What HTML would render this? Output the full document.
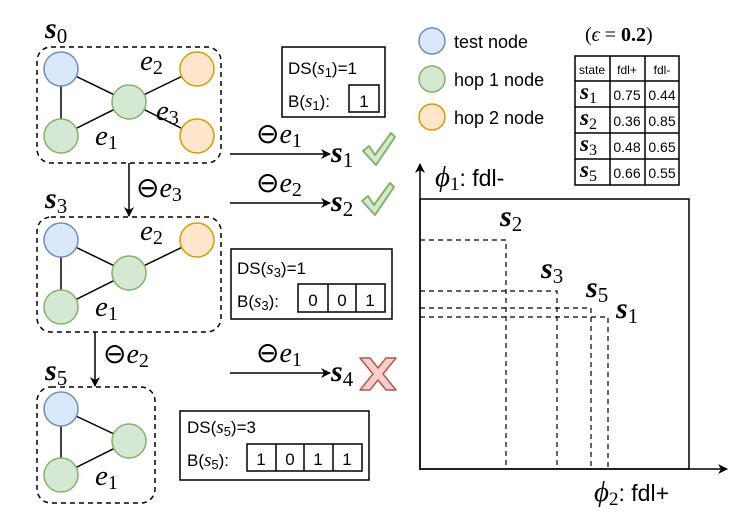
<!DOCTYPE html>
<html><head><meta charset="utf-8"><style>
html,body{margin:0;padding:0;background:#fff;}
svg{display:block;}
.m{font-family:"Liberation Serif",serif;font-style:italic;}
.t{font-family:"Liberation Sans",sans-serif;}
</style></head><body>
<svg width="748" height="515" viewBox="0 0 748 515" xmlns="http://www.w3.org/2000/svg">
<defs>
<marker id="ah" markerWidth="10" markerHeight="10" refX="9" refY="5" orient="auto" markerUnits="userSpaceOnUse">
<path d="M0,0 L10,5 L0,10 L3,5 Z" fill="#000"/></marker>
<g id="blue"><circle r="17" fill="#dae8fc" stroke="#6c8ebf" stroke-width="1.5"/></g>
<g id="green"><circle r="17" fill="#d5e8d4" stroke="#82b366" stroke-width="1.5"/></g>
<g id="orange"><circle r="17" fill="#ffe6cc" stroke="#d79b00" stroke-width="1.5"/></g>
<path id="chk" d="M0,18 L6,13 L12,22 L28,0 L32,4 L13,32 Z" fill="#d5e8d4" stroke="#82b366" stroke-width="2" stroke-linejoin="round"/>
</defs>

<!-- s0 -->
<text class="m" x="45" y="38" font-size="30" font-weight="bold">s<tspan font-size="21" font-style="normal" font-weight="normal" dy="5">0</tspan></text>
<rect x="37" y="47" width="184" height="116" rx="14" fill="none" stroke="#000" stroke-width="1.5" stroke-dasharray="5,4"/>
<g stroke="#000" stroke-width="1.5">
<line x1="61" y1="69" x2="129" y2="102"/><line x1="61" y1="69" x2="61" y2="136"/>
<line x1="61" y1="136" x2="129" y2="102"/><line x1="129" y1="102" x2="197" y2="69"/>
<line x1="129" y1="102" x2="197" y2="136"/></g>
<use href="#blue" x="61" y="69"/><use href="#green" x="61" y="136"/><use href="#green" x="129" y="102"/>
<use href="#orange" x="197" y="69"/><use href="#orange" x="197" y="136"/>
<text class="m" x="140" y="70" font-size="29">e<tspan font-size="20" font-style="normal" dy="4">2</tspan></text>
<text class="m" x="156" y="120" font-size="29">e<tspan font-size="20" font-style="normal" dy="4">3</tspan></text>
<text class="m" x="95" y="145" font-size="29">e<tspan font-size="20" font-style="normal" dy="4">1</tspan></text>

<!-- down arrow 1 -->
<line x1="129" y1="163" x2="129" y2="216" stroke="#000" stroke-width="1.5" marker-end="url(#ah)"/>
<text class="m" x="136" y="197" font-size="28"><tspan font-style="normal">⊖</tspan>e<tspan font-size="20" font-style="normal" dy="4">3</tspan></text>

<!-- s3 -->
<text class="m" x="45" y="208" font-size="30" font-weight="bold">s<tspan font-size="21" font-style="normal" font-weight="normal" dy="5">3</tspan></text>
<rect x="37" y="217" width="184" height="115" rx="14" fill="none" stroke="#000" stroke-width="1.5" stroke-dasharray="5,4"/>
<g stroke="#000" stroke-width="1.5">
<line x1="61" y1="240" x2="129" y2="273"/><line x1="61" y1="240" x2="61" y2="307"/>
<line x1="61" y1="307" x2="129" y2="273"/><line x1="129" y1="273" x2="197" y2="240"/></g>
<use href="#blue" x="61" y="240"/><use href="#green" x="61" y="307"/><use href="#green" x="129" y="273"/>
<use href="#orange" x="197" y="240"/>
<text class="m" x="140" y="240" font-size="29">e<tspan font-size="20" font-style="normal" dy="4">2</tspan></text>
<text class="m" x="95" y="316" font-size="29">e<tspan font-size="20" font-style="normal" dy="4">1</tspan></text>

<!-- down arrow 2 -->
<line x1="95" y1="332" x2="95" y2="386" stroke="#000" stroke-width="1.5" marker-end="url(#ah)"/>
<text class="m" x="103" y="363" font-size="28"><tspan font-style="normal">⊖</tspan>e<tspan font-size="20" font-style="normal" dy="4">2</tspan></text>

<!-- s5 -->
<text class="m" x="45" y="380" font-size="30" font-weight="bold">s<tspan font-size="21" font-style="normal" font-weight="normal" dy="5">5</tspan></text>
<rect x="37" y="387" width="118" height="116" rx="14" fill="none" stroke="#000" stroke-width="1.5" stroke-dasharray="5,4"/>
<g stroke="#000" stroke-width="1.5">
<line x1="61" y1="409" x2="129" y2="441"/><line x1="61" y1="409" x2="61" y2="475"/>
<line x1="61" y1="475" x2="129" y2="441"/></g>
<use href="#blue" x="61" y="409"/><use href="#green" x="61" y="475"/><use href="#green" x="129" y="441"/>
<text class="m" x="95" y="485" font-size="29">e<tspan font-size="20" font-style="normal" dy="4">1</tspan></text>

<!-- right arrows -->
<line x1="230" y1="154" x2="330" y2="154" stroke="#000" stroke-width="1.5" marker-end="url(#ah)"/>
<text class="m" x="256" y="143" font-size="28"><tspan font-style="normal">⊖</tspan>e<tspan font-size="20" font-style="normal" dy="4">1</tspan></text>
<text class="m" x="331" y="162" font-size="30" font-weight="bold">s<tspan font-size="21" font-style="normal" font-weight="normal" dy="5">1</tspan></text>
<use href="#chk" x="363" y="133"/>

<line x1="230" y1="203" x2="330" y2="203" stroke="#000" stroke-width="1.5" marker-end="url(#ah)"/>
<text class="m" x="256" y="192" font-size="28"><tspan font-style="normal">⊖</tspan>e<tspan font-size="20" font-style="normal" dy="4">2</tspan></text>
<text class="m" x="331" y="211" font-size="30" font-weight="bold">s<tspan font-size="21" font-style="normal" font-weight="normal" dy="5">2</tspan></text>
<use href="#chk" x="362" y="183"/>

<line x1="230" y1="373" x2="330" y2="373" stroke="#000" stroke-width="1.5" marker-end="url(#ah)"/>
<text class="m" x="256" y="362" font-size="28"><tspan font-style="normal">⊖</tspan>e<tspan font-size="20" font-style="normal" dy="4">1</tspan></text>
<text class="m" x="331" y="381" font-size="30" font-weight="bold">s<tspan font-size="21" font-style="normal" font-weight="normal" dy="5">4</tspan></text>
<path d="M360,358 L370,358 L378,368 L386,358 L396,358 L383,374 L396,390 L386,390 L378,380 L370,390 L360,390 L373,374 Z" fill="#f8cecc" stroke="#b85450" stroke-width="1.5" stroke-linejoin="round"/>

<!-- DS boxes -->
<g class="t" font-size="17">
<rect x="282" y="47" width="103" height="70" fill="#fff" stroke="#000" stroke-width="1.5"/>
<text x="288" y="74">DS(<tspan class="m" font-size="19">s</tspan><tspan font-size="13" dy="3">1</tspan><tspan dy="-3">)=1</tspan></text>
<text x="288" y="107">B(<tspan class="m" font-size="19">s</tspan><tspan font-size="13" dy="3">1</tspan><tspan dy="-3">):</tspan></text>
<rect x="349" y="85" width="30" height="27" fill="none" stroke="#000" stroke-width="1.5"/>
<text x="364" y="107" text-anchor="middle">1</text>

<rect x="231" y="249" width="161" height="70" fill="#fff" stroke="#000" stroke-width="1.5"/>
<text x="237" y="274">DS(<tspan class="m" font-size="19">s</tspan><tspan font-size="13" dy="3">3</tspan><tspan dy="-3">)=1</tspan></text>
<text x="237" y="307">B(<tspan class="m" font-size="19">s</tspan><tspan font-size="13" dy="3">3</tspan><tspan dy="-3">):</tspan></text>
<rect x="298" y="284" width="87" height="28" fill="none" stroke="#000" stroke-width="1.5"/>
<line x1="328" y1="284" x2="328" y2="312" stroke="#000" stroke-width="1.5"/>
<line x1="356" y1="284" x2="356" y2="312" stroke="#000" stroke-width="1.5"/>
<text x="313" y="306" text-anchor="middle">0</text><text x="342" y="306" text-anchor="middle">0</text><text x="370" y="306" text-anchor="middle">1</text>

<rect x="180" y="411" width="189" height="69" fill="#fff" stroke="#000" stroke-width="1.5"/>
<text x="187" y="433">DS(<tspan class="m" font-size="19">s</tspan><tspan font-size="13" dy="3">5</tspan><tspan dy="-3">)=3</tspan></text>
<text x="187" y="466">B(<tspan class="m" font-size="19">s</tspan><tspan font-size="13" dy="3">5</tspan><tspan dy="-3">):</tspan></text>
<rect x="247" y="444" width="115" height="27" fill="none" stroke="#000" stroke-width="1.5"/>
<line x1="276" y1="444" x2="276" y2="471" stroke="#000" stroke-width="1.5"/>
<line x1="304" y1="444" x2="304" y2="471" stroke="#000" stroke-width="1.5"/>
<line x1="333" y1="444" x2="333" y2="471" stroke="#000" stroke-width="1.5"/>
<text x="261" y="465" text-anchor="middle">1</text><text x="290" y="465" text-anchor="middle">0</text><text x="318" y="465" text-anchor="middle">1</text><text x="347" y="465" text-anchor="middle">1</text>
</g>

<!-- legend -->
<circle cx="432" cy="41" r="13" fill="#dae8fc" stroke="#6c8ebf" stroke-width="1.5"/>
<circle cx="432" cy="79" r="13" fill="#d5e8d4" stroke="#82b366" stroke-width="1.5"/>
<circle cx="432" cy="117" r="13" fill="#ffe6cc" stroke="#d79b00" stroke-width="1.5"/>
<g class="t" font-size="18">
<text x="454" y="48">test node</text>
<text x="454" y="86">hop 1 node</text>
<text x="454" y="124">hop 2 node</text>
</g>
<text x="585" y="41" font-family="Liberation Serif,serif" font-size="20">(<tspan font-style="italic">ϵ</tspan> = <tspan font-weight="bold">0.2</tspan>)</text>

<!-- table -->
<g stroke="#000" stroke-width="1.5" fill="none">
<rect x="575" y="56" width="104" height="129"/>
<line x1="575" y1="81" x2="679" y2="81"/><line x1="575" y1="107" x2="679" y2="107"/>
<line x1="575" y1="133" x2="679" y2="133"/><line x1="575" y1="159" x2="679" y2="159"/>
<line x1="610" y1="56" x2="610" y2="185"/><line x1="645" y1="56" x2="645" y2="185"/>
</g>
<g class="t" font-size="12" text-anchor="middle">
<text x="592" y="74">state</text><text x="627" y="74">fdl+</text><text x="662" y="74">fdl-</text>
</g>
<g class="t" font-size="14" text-anchor="middle">
<text x="627" y="100">0.75</text><text x="662" y="100">0.44</text>
<text x="627" y="126">0.36</text><text x="662" y="126">0.85</text>
<text x="627" y="152">0.48</text><text x="662" y="152">0.65</text>
<text x="627" y="178">0.66</text><text x="662" y="178">0.55</text>
</g>
<g class="m" font-size="23" font-weight="bold">
<text x="580" y="99">s<tspan font-size="16" font-style="normal" font-weight="normal" dy="4">1</tspan></text>
<text x="580" y="125">s<tspan font-size="16" font-style="normal" font-weight="normal" dy="4">2</tspan></text>
<text x="580" y="151">s<tspan font-size="16" font-style="normal" font-weight="normal" dy="4">3</tspan></text>
<text x="580" y="177">s<tspan font-size="16" font-style="normal" font-weight="normal" dy="4">5</tspan></text>
</g>

<!-- chart -->
<line x1="420" y1="470" x2="420" y2="164" stroke="#000" stroke-width="1.5" marker-end="url(#ah)"/>
<line x1="420" y1="469" x2="727" y2="469" stroke="#000" stroke-width="1.5" marker-end="url(#ah)"/>
<rect x="420" y="199" width="269" height="270" fill="none" stroke="#000" stroke-width="1.5"/>
<g stroke="#000" stroke-width="1.2" stroke-dasharray="5,4" fill="none">
<polyline points="420,240 506,240 506,469"/>
<polyline points="420,291 557,291 557,469"/>
<polyline points="420,308 591,308 591,469"/>
<polyline points="420,317 608,317 608,469"/>
</g>
<text x="435" y="186" font-size="29"><tspan class="m">ϕ</tspan><tspan font-family="Liberation Serif,serif" font-size="19" dy="4">1</tspan><tspan class="t" dy="-4" font-size="23">: fdl-</tspan></text>
<text x="594" y="501" font-size="29"><tspan class="m">ϕ</tspan><tspan font-family="Liberation Serif,serif" font-size="19" dy="4">2</tspan><tspan class="t" dy="-4" font-size="23">: fdl+</tspan></text>
<g class="m" font-size="30" font-weight="bold">
<text x="500" y="226">s<tspan font-size="21" font-style="normal" font-weight="normal" dy="5">2</tspan></text>
<text x="541" y="278">s<tspan font-size="21" font-style="normal" font-weight="normal" dy="5">3</tspan></text>
<text x="586" y="297">s<tspan font-size="21" font-style="normal" font-weight="normal" dy="5">5</tspan></text>
<text x="616" y="318">s<tspan font-size="21" font-style="normal" font-weight="normal" dy="5">1</tspan></text>
</g>
</svg>
</body></html>
